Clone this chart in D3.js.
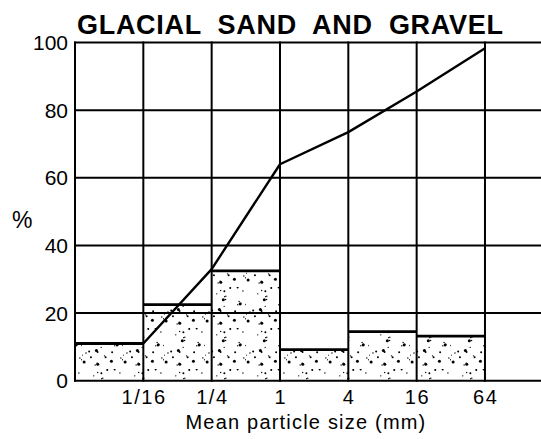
<!DOCTYPE html>
<meta charset="utf-8">
<title>Glacial sand and gravel</title>
<style>
  body { margin: 0; background: white; }
  svg { display: block; font-family: "Liberation Sans", Arial, sans-serif; }
</style>
<body>
<script src="https://d3js.org/d3.v7.min.js"></script>
<script>
// grain size classes (boundaries), percent per class, cumulative percent
const sizeTicks = ["1/16", "1/4", "1", "4", "16", "64"];
const binPct = [11, 22.5, 32.5, 9.2, 14.5, 13.2];
const cumPct = [11, 33, 64, 73.5, 85.5, 98.3];
const yTicks = [0, 20, 40, 60, 80, 100];

const width = 541, height = 439;
const plotLeft = 75, plotTop = 42.5, plotBottom = 380.7;

const svg = d3.select("body").append("svg")
    .attr("width", width)
    .attr("height", height);

// x in class units: 7 columns, the last one empty
const x = d3.scaleLinear().domain([0, 7]).range([plotLeft, plotLeft + 7 * 68.33]);
const y = d3.scaleLinear().domain([0, 100]).range([plotBottom, plotTop]);

// stipple texture for the bars
const tile = 41;
const pat = svg.append("defs").append("pattern")
    .attr("id", "stipple")
    .attr("patternUnits", "userSpaceOnUse")
    .attr("width", tile).attr("height", tile);
let seed = 11;
function rnd() { seed = (seed * 16807) % 2147483647; return seed / 2147483647; }
for (let k = 0; k < 32; k++) {
  const r = rnd();
  pat.append("circle")
    .attr("cx", rnd() * tile)
    .attr("cy", rnd() * tile)
    .attr("r", r < 0.12 ? 1.5 : r < 0.45 ? 1.0 : 0.7)
    .attr("fill", "#000");
}

// bars
svg.selectAll("rect.bar")
  .data(binPct)
  .enter().append("rect")
    .attr("class", "bar")
    .attr("x", (d, i) => x(i))
    .attr("y", d => y(d))
    .attr("width", x(1) - x(0))
    .attr("height", d => y(0) - y(d))
    .attr("fill", "url(#stipple)");

// horizontal grid lines
svg.selectAll("line.h")
  .data(yTicks)
  .enter().append("line")
    .attr("class", "h")
    .attr("x1", plotLeft - 1).attr("x2", width)
    .attr("y1", d => y(d)).attr("y2", d => y(d))
    .attr("stroke", "#000").attr("stroke-width", 2);

// vertical grid lines (left axis + class boundaries)
svg.selectAll("line.v")
  .data(d3.range(0, 7))
  .enter().append("line")
    .attr("class", "v")
    .attr("x1", d => x(d)).attr("x2", d => x(d))
    .attr("y1", y(100) - 1).attr("y2", y(0) + 1)
    .attr("stroke", "#000").attr("stroke-width", 2);

// bar tops
svg.selectAll("line.top")
  .data(binPct)
  .enter().append("line")
    .attr("class", "top")
    .attr("x1", (d, i) => x(i)).attr("x2", (d, i) => x(i + 1))
    .attr("y1", d => y(d)).attr("y2", d => y(d))
    .attr("stroke", "#000").attr("stroke-width", 2.8);

// cumulative curve
svg.append("path")
  .datum(cumPct)
  .attr("fill", "none")
  .attr("stroke", "#000")
  .attr("stroke-width", 2.4)
  .attr("stroke-linejoin", "round")
  .attr("d", d3.line()
    .x((d, i) => x(i + 1))
    .y(d => y(d)));

// y tick labels
svg.selectAll("text.yt")
  .data(yTicks)
  .enter().append("text")
    .attr("class", "yt")
    .attr("x", 68)
    .attr("y", d => y(d))
    .attr("dy", "0.36em")
    .attr("text-anchor", "end")
    .style("font-size", "21px")
    .text(d => d);

// x tick labels
svg.selectAll("text.xt")
  .data(sizeTicks)
  .enter().append("text")
    .attr("class", "xt")
    .attr("x", (d, i) => x(i + 1) + 0.75)
    .attr("y", 403.5)
    .attr("text-anchor", "middle")
    .style("font-size", "20px")
    .style("letter-spacing", "1.5px")
    .text(d => d);

svg.append("text")
  .attr("x", 306)
  .attr("y", 428.5)
  .attr("text-anchor", "middle")
  .style("font-size", "20px")
  .style("letter-spacing", "1.2px")
  .text("Mean particle size (mm)");

svg.append("text")
  .attr("x", 12)
  .attr("y", 228)
  .style("font-size", "23px")
  .text("%");

svg.append("text")
  .attr("x", 77)
  .attr("y", 34)
  .style("font-size", "27px")
  .style("font-weight", "bold")
  .style("letter-spacing", "0.7px")
  .style("word-spacing", "8px")
  .text("GLACIAL SAND AND GRAVEL");
</script>
</body>
